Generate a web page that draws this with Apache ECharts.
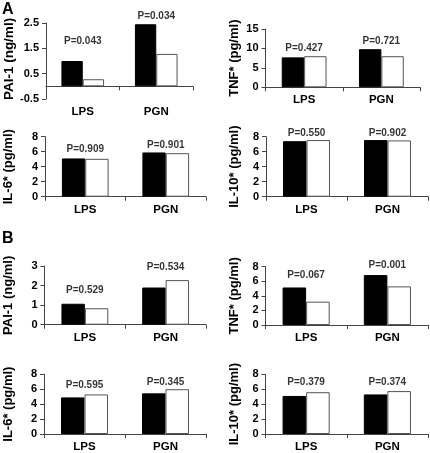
<!DOCTYPE html>
<html><head><meta charset="utf-8">
<script src="https://cdn.jsdelivr.net/npm/echarts@6/dist/echarts.min.js"></script>
<style>html,body{margin:0;padding:0;background:#fff}#c{width:430px;height:453px}</style>
</head><body><div id="c"></div>
<script>
// ---- data ----
const categories = ['LPS', 'PGN'];
// Panel A
const paiA_black = [1.0, 2.45];
const paiA_white = [0.28, 1.28];
const paiA_p = ['P=0.043', 'P=0.034'];
const tnfA_black = [7.7, 9.8];
const tnfA_white = [8.0, 8.0];
const tnfA_p = ['P=0.427', 'P=0.721'];
const il6A_black = [5.1, 5.9];
const il6A_white = [5.05, 5.8];
const il6A_p = ['P=0.909', 'P=0.901'];
const il10A_black = [7.4, 7.55];
const il10A_white = [7.55, 7.5];
const il10A_p = ['P=0.550', 'P=0.902'];
// Panel B
const paiB_black = [1.07, 1.9];
const paiB_white = [0.84, 2.28];
const paiB_p = ['P=0.529', 'P=0.534'];
const tnfB_black = [5.15, 6.85];
const tnfB_white = [3.2, 5.3];
const tnfB_p = ['P=0.067', 'P=0.001'];
const il6B_black = [4.9, 5.45];
const il6B_white = [5.3, 6.0];
const il6B_p = ['P=0.595', 'P=0.345'];
const il10B_black = [5.1, 5.3];
const il10B_white = [5.6, 5.75];
const il10B_p = ['P=0.379', 'P=0.374'];
// tick labels
const paiA_ticks = [-0.5, 0.5, 1.5, 2.5];
const tnfA_ticks = [0, 5, 10, 15];
const il_ticks = [0, 2, 4, 6, 8];
const paiB_ticks = [0, 1, 2, 3];
const tnfB_ticks = [0, 2, 4, 6, 8];

// ---- layout / style ----
const FONT = '"Liberation Sans", Arial, Helvetica, sans-serif';
const panels = [
  {grid:{left:46, top:23, width:147, height:76}, name:'PAI-1 (ng/ml)', nameSize:13.5, nameGap:30, namePad:[0,0,0,4], min:-0.5, max:2.5, interval:0.5, ticks:paiA_ticks, black:paiA_black, white:paiA_white, p:paiA_p, gaps:[15,3]},
  {grid:{left:265.5, top:29, width:154.5, height:58.3}, name:'TNF* (pg/ml)', nameSize:13, nameGap:25, namePad:0, min:0, max:15, interval:5, ticks:tnfA_ticks, black:tnfA_black, white:tnfA_white, p:tnfA_p, gaps:[3,3]},
  {grid:{left:45, top:136.7, width:161, height:60}, name:'IL-6* (pg/ml)', nameSize:13, nameGap:30, namePad:0, min:0, max:8, interval:2, ticks:il_ticks, black:il6A_black, white:il6A_white, p:il6A_p, gaps:[4,2]},
  {grid:{left:266, top:136.7, width:162, height:60}, name:'IL-10* (pg/ml)', nameSize:13, nameGap:25, namePad:0, min:0, max:8, interval:2, ticks:il_ticks, black:il10A_black, white:il10A_white, p:il10A_p, gaps:[2,2]},
  {grid:{left:44.5, top:266, width:161.5, height:58.7}, name:'PAI-1 (ng/ml)', nameSize:13, nameGap:30, namePad:0, min:0, max:3, interval:1, ticks:paiB_ticks, black:paiB_black, white:paiB_white, p:paiB_p, gaps:[9,8]},
  {grid:{left:265.5, top:266.7, width:162.5, height:58.3}, name:'TNF* (pg/ml)', nameSize:13, nameGap:25, namePad:0, min:0, max:8, interval:2, ticks:tnfB_ticks, black:tnfB_black, white:tnfB_white, p:tnfB_p, gaps:[7,5]},
  {grid:{left:44, top:374.3, width:162, height:59.7}, name:'IL-6* (pg/ml)', nameSize:13, nameGap:29, namePad:0, min:0, max:8, interval:2, ticks:il_ticks, black:il6B_black, white:il6B_white, p:il6B_p, gaps:[4,2]},
  {grid:{left:265.5, top:374.3, width:162.5, height:59.7}, name:'IL-10* (pg/ml)', nameSize:13, nameGap:25, namePad:0, min:0, max:8, interval:2, ticks:il_ticks, black:il10B_black, white:il10B_white, p:il10B_p, gaps:[5,4]}
];

const AX = '#444';
const grids = [], xAxes = [], yAxes = [], series = [];
panels.forEach((pn, i) => {
  grids.push(Object.assign({outerBoundsMode:'none', containLabel:false}, pn.grid));
  xAxes.push({
    type:'category', gridIndex:i, data:categories,
    axisLine:{onZero:true, lineStyle:{color:AX, width:1}},
    axisTick:{show:true, length:4, lineStyle:{color:AX}},
    axisLabel:{color:'#000', fontFamily:FONT, fontWeight:'bold', fontSize:11.5, margin:7},
    splitLine:{show:false}
  });
  yAxes.push({
    type:'value', gridIndex:i, min:pn.min, max:pn.max, interval:pn.interval,
    name:pn.name, nameLocation:'middle', nameGap:pn.nameGap,
    nameTextStyle:{color:'#000', fontFamily:FONT, fontWeight:'bold', fontSize:pn.nameSize, padding:pn.namePad},
    axisLine:{show:true, lineStyle:{color:AX, width:1}},
    axisTick:{show:true, length:4, customValues:pn.ticks, lineStyle:{color:AX}},
    axisLabel:{color:'#000', fontFamily:FONT, fontWeight:'bold', fontSize:11, margin:7, customValues:pn.ticks},
    splitLine:{show:false}
  });
  series.push({
    type:'bar', xAxisIndex:i, yAxisIndex:i, data:pn.black, barWidth:'29%', barGap:'0%',
    itemStyle:{color:'#000', borderColor:'#000', borderWidth:1}, silent:true
  });
  series.push({
    type:'bar', xAxisIndex:i, yAxisIndex:i, data:pn.white, barWidth:'29%', barGap:'0%',
    itemStyle:{color:'#fff', borderColor:'#555', borderWidth:1}, silent:true
  });
  series.push({
    type:'scatter', xAxisIndex:i, yAxisIndex:i, symbolSize:0, silent:true,
    data:categories.map((c, j) => ({
      value:[j, Math.max(pn.black[j], pn.white[j])],
      label:{distance:pn.gaps[j], formatter:pn.p[j]}
    })),
    label:{show:true, position:'top', color:'#000', fontFamily:FONT, fontWeight:'bold', fontSize:10}
  });
});

const chart = echarts.init(document.getElementById('c'), null, {renderer:'canvas'});
chart.setOption({
  animation:false,
  backgroundColor:'#fff',
  title:[
    {text:'A', left:2, top:2, padding:0, textStyle:{fontFamily:FONT, fontWeight:'bold', fontSize:16, color:'#000'}},
    {text:'B', left:2, top:231, padding:0, textStyle:{fontFamily:FONT, fontWeight:'bold', fontSize:16, color:'#000'}}
  ],
  grid:grids, xAxis:xAxes, yAxis:yAxes, series:series
});
</script></body></html>
